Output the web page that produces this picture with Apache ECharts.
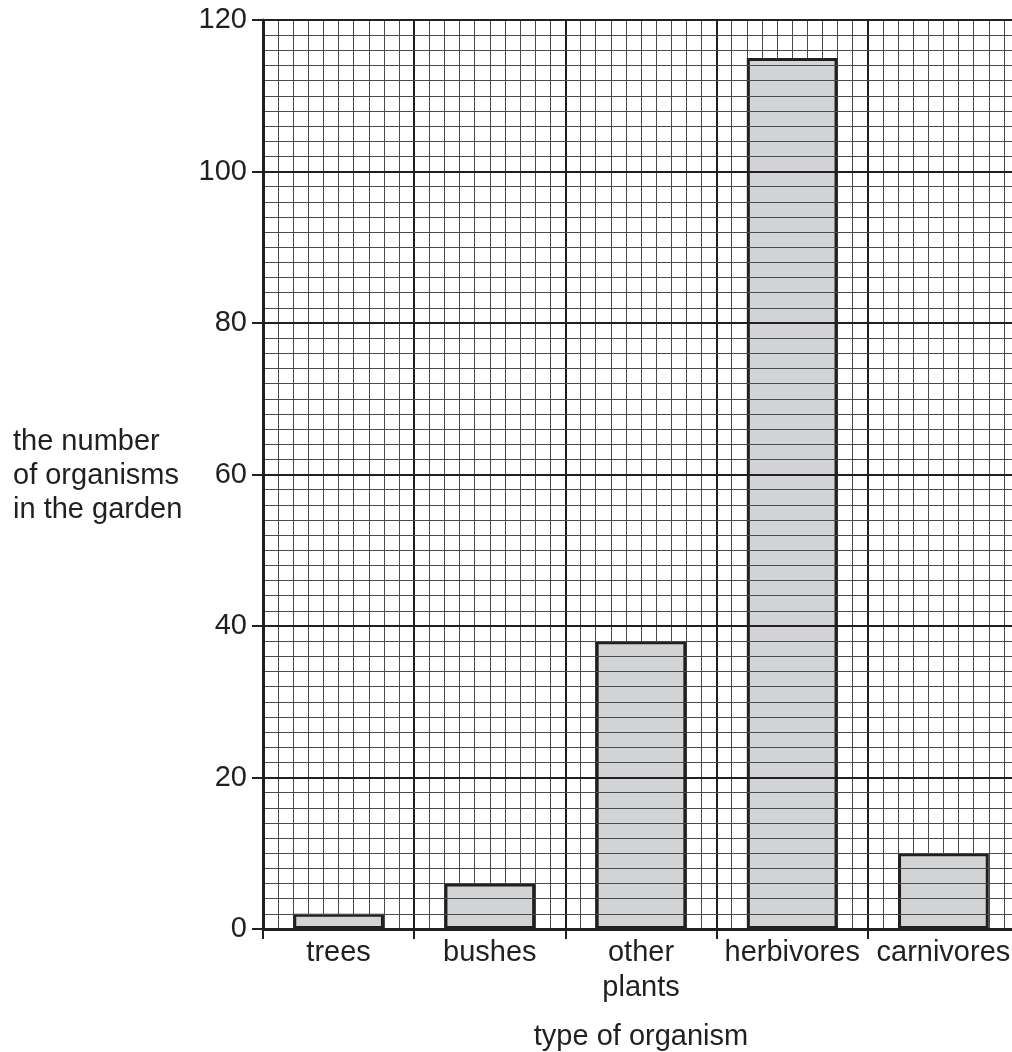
<!DOCTYPE html>
<html>
<head>
<meta charset="utf-8">
<script src="https://cdn.jsdelivr.net/npm/echarts@6/dist/echarts.min.js"></script>
<style>
html,body{margin:0;padding:0;background:#fff;}
#chart{width:1012px;height:1052px;}
</style>
</head>
<body>
<div id="chart"></div>
<script>
const categories = ['trees', 'bushes', 'other\nplants', 'herbivores', 'carnivores'];
const counts = [2, 6, 38, 115, 10];
const yMin = 0;
const yMax = 120;
const yStep = 20;
const yAxisTitle = 'the number\nof organisms\nin the garden';
const xAxisTitle = 'type of organism';

const ink = '#231f20';
const font = 'Liberation Sans, Arial, sans-serif';
const fs = 29;

const chart = echarts.init(document.getElementById('chart'), null, {renderer: 'canvas'});
chart.setOption({
  backgroundColor: '#ffffff',
  animation: false,
  grid: {left: 263, width: 756, top: 20, height: 909, containLabel: false, outerBoundsMode: 'none'},
  xAxis: [
    {
      type: 'category',
      data: categories,
      position: 'bottom',
      boundaryGap: true,
      axisLine: {show: true, lineStyle: {color: ink, width: 3}},
      axisTick: {show: true, length: 10, inside: false, alignWithLabel: false, lineStyle: {color: ink, width: 2}},
      axisLabel: {show: true, interval: 0, hideOverlap: false, color: ink, fontSize: fs, fontFamily: font, margin: 6, lineHeight: 35},
      splitLine: {show: false},
      name: xAxisTitle,
      nameLocation: 'middle',
      nameGap: 93,
      nameTextStyle: {color: ink, fontSize: fs, fontFamily: font},
      z: 5
    },
    {
      type: 'value',
      min: 0,
      max: categories.length,
      interval: 1,
      position: 'bottom',
      axisLine: {show: false},
      axisTick: {show: false},
      axisLabel: {show: false},
      splitLine: {show: true, lineStyle: {color: ink, width: 2}},
      minorTick: {show: false, splitNumber: 10},
      minorSplitLine: {show: true, lineStyle: {color: '#4a4a4a', width: 1}}
    }
  ],
  yAxis: {
    type: 'value',
    min: yMin,
    max: yMax,
    interval: yStep,
    axisLine: {show: true, lineStyle: {color: ink, width: 3}},
    axisTick: {show: true, length: 11, inside: false, lineStyle: {color: ink, width: 2}},
    axisLabel: {color: ink, fontSize: fs, fontFamily: font, margin: 16},
    splitLine: {show: true, lineStyle: {color: ink, width: 2}},
    minorTick: {show: false, splitNumber: 10},
    minorSplitLine: {show: true, lineStyle: {color: '#4a4a4a', width: 1}},
    z: 5
  },
  graphic: [
    {
      type: 'text',
      left: 13,
      top: 425,
      style: {text: yAxisTitle, fill: ink, font: fs + 'px ' + font, lineHeight: 34, textAlign: 'left'}
    }
  ],
  series: [
    {
      type: 'bar',
      xAxisIndex: 0,
      yAxisIndex: 0,
      data: counts,
      barWidth: '60%',
      itemStyle: {color: '#d1d3d4', borderColor: ink, borderWidth: 3},
      z: 3
    }
  ]
});
</script>
</body>
</html>
